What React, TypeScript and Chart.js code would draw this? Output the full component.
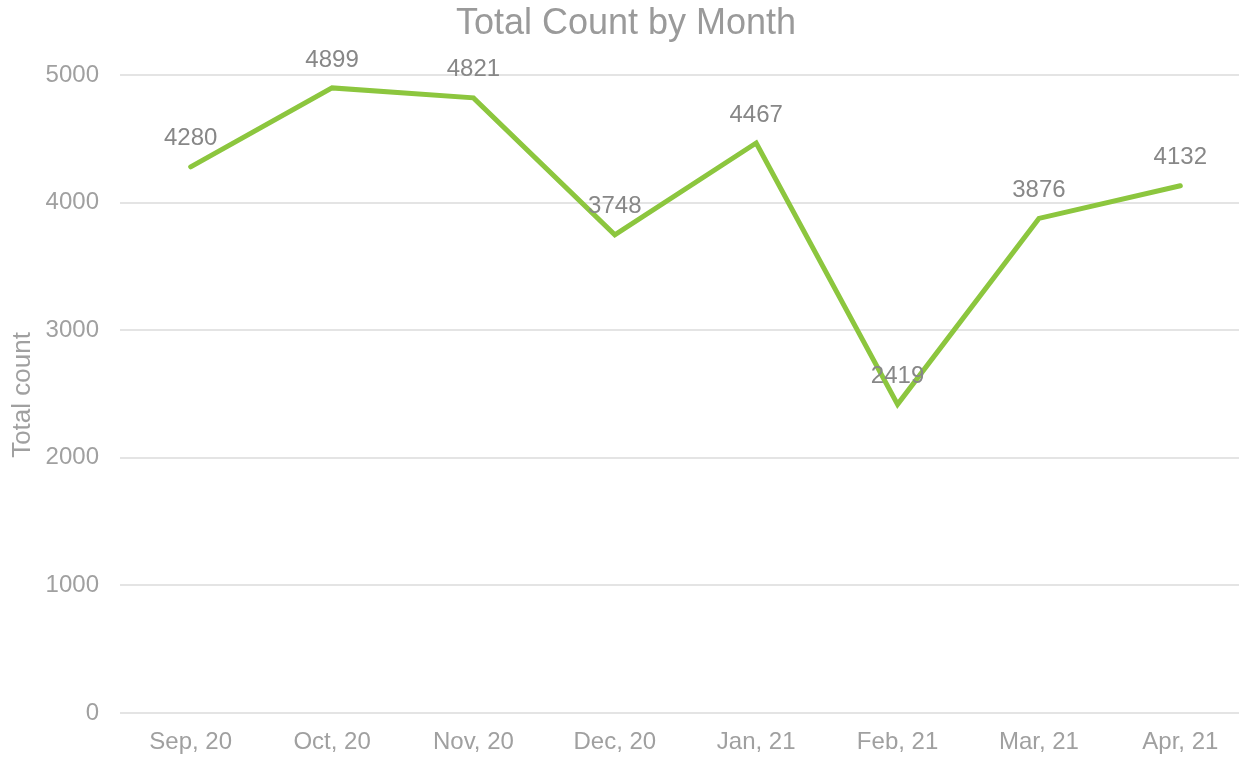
import React, { useEffect, useRef } from "react";
import { Chart, registerables } from "chart.js";

Chart.register(...registerables);

const categories = ["Sep, 20", "Oct, 20", "Nov, 20", "Dec, 20", "Jan, 21", "Feb, 21", "Mar, 21", "Apr, 21"];
const totalCounts = [4280, 4899, 4821, 3748, 4467, 2419, 3876, 4132];
const yTicks = [0, 1000, 2000, 3000, 4000, 5000];
const chartTitle = "Total Count by Month";
const yAxisTitle = "Total count";

const FONT = "'Liberation Sans', Arial, sans-serif";

const overlayPlugin = {
  id: "overlay",
  afterDatasetsDraw(chart: any) {
    const ctx = chart.ctx;
    const meta = chart.getDatasetMeta(0);
    ctx.save();
    ctx.font = `24px ${FONT}`;
    ctx.fillStyle = "#878787";
    ctx.textAlign = "center";
    ctx.textBaseline = "middle";
    meta.data.forEach((pt: any, i: number) => {
      ctx.fillText(String(totalCounts[i]), pt.x, pt.y - 28);
    });
    ctx.restore();
  },
  afterDraw(chart: any) {
    const ctx = chart.ctx;
    ctx.save();
    ctx.font = `36px ${FONT}`;
    ctx.fillStyle = "#9a9a9a";
    ctx.textAlign = "center";
    ctx.textBaseline = "middle";
    ctx.fillText(chartTitle, 626, 24);
    ctx.translate(23, 395);
    ctx.rotate(-Math.PI / 2);
    ctx.font = `26px ${FONT}`;
    ctx.fillStyle = "#a0a0a0";
    ctx.fillText(yAxisTitle, 0, 0);
    ctx.restore();
  },
};

export default function App() {
  const ref = useRef<HTMLCanvasElement | null>(null);
  useEffect(() => {
    if (!ref.current) return;
    const chart = new Chart(ref.current, {
      type: "line",
      data: {
        labels: categories,
        datasets: [
          {
            data: totalCounts,
            borderColor: "#8cc63e",
            backgroundColor: "#8cc63e",
            borderWidth: 5,
            borderCapStyle: "round",
            borderJoinStyle: "miter",
            pointRadius: 0,
            tension: 0,
          },
        ],
      },
      options: {
        responsive: false,
        animation: false,
        layout: { padding: { top: 75, right: 4, left: 0, bottom: 0 } },
        plugins: {
          legend: { display: false },
          title: { display: false },
          tooltip: { enabled: false },
        },
        scales: {
          x: {
            type: "category",
            offset: true,
            grid: { display: false, drawTicks: false },
            border: { display: false },
            ticks: {
              color: "#a0a0a0",
              font: { size: 24, family: FONT },
              padding: 15,
              maxRotation: 0,
              autoSkip: false,
            },
            afterFit(scale: any) {
              scale.height = 45;
            },
          },
          y: {
            min: 0,
            max: 5000,
            afterBuildTicks(scale: any) {
              scale.ticks = yTicks.map((v) => ({ value: v }));
            },
            grid: { color: "#e4e4e4", lineWidth: 2, drawTicks: false },
            border: { display: false },
            ticks: {
              color: "#a0a0a0",
              font: { size: 24, family: FONT },
              padding: 21,
              callback: (v: any) => String(v),
            },
            afterFit(scale: any) {
              scale.width = 120;
            },
          },
        },
      },
      plugins: [overlayPlugin],
    } as any);
    return () => chart.destroy();
  }, []);

  return (
    <div style={{ position: "absolute", left: 0, top: 0, width: 1239, height: 758, overflow: "hidden", background: "#fff" }}>
      <canvas ref={ref} width={1255} height={758} style={{ display: "block" }} />
    </div>
  );
}
